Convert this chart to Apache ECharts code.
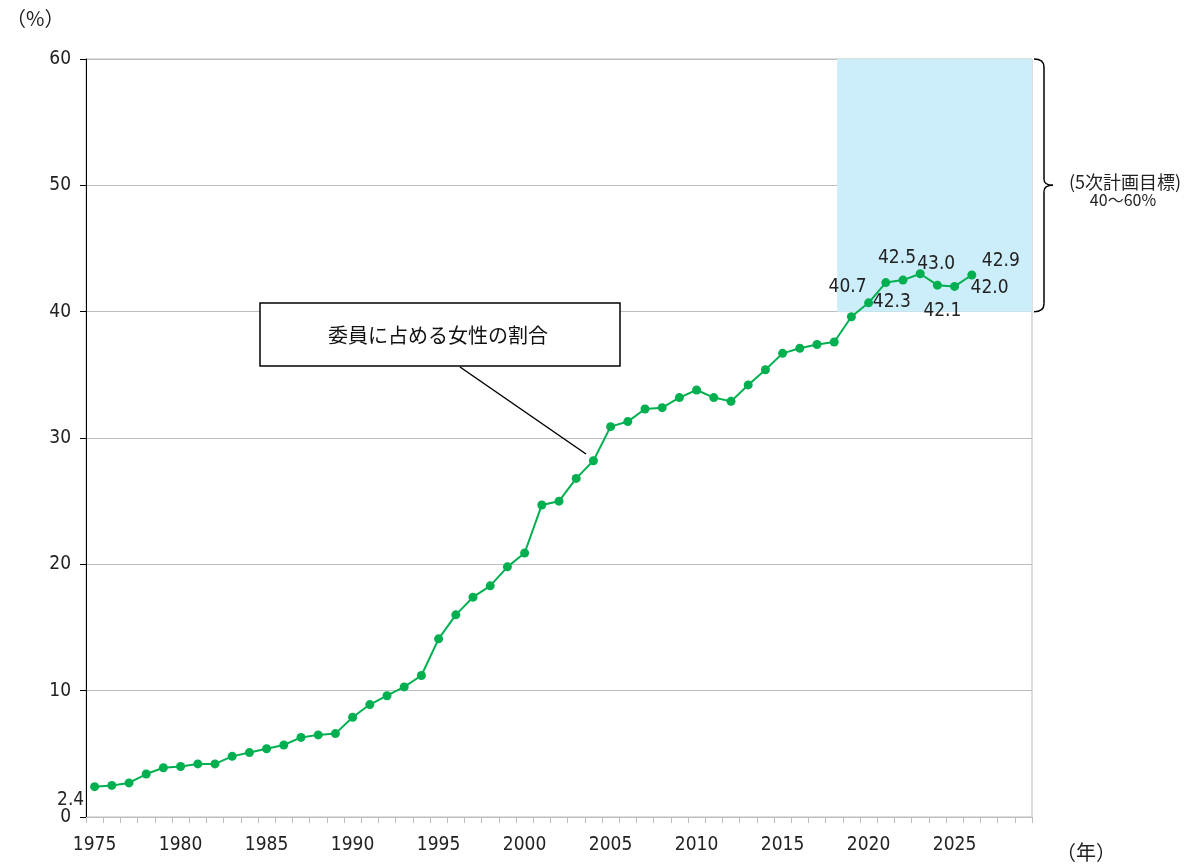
<!DOCTYPE html>
<html><head><meta charset="utf-8">
<script src="https://cdn.jsdelivr.net/npm/echarts@6/dist/echarts.min.js"></script>
<style>html,body{margin:0;padding:0;background:#fff}#c{width:1195px;height:867px}</style>
</head><body><div id="c"></div>
<script>
const years = ['1975','1976','1977','1978','1979','1980','1981','1982','1983','1984',
  '1985','1986','1987','1988','1989','1990','1991','1992','1993','1994',
  '1995','1996','1997','1998','1999','2000','2001','2002','2003','2004',
  '2005','2006','2007','2008','2009','2010','2011','2012','2013','2014',
  '2015','2016','2017','2018','2019','2020','2021','2022','2023','2024',
  '2025','2026','2027','2028','2029'];
const ratio = [2.4,2.5,2.7,3.4,3.9,4.0,4.2,4.2,4.8,5.1,
  5.4,5.7,6.3,6.5,6.6,7.9,8.9,9.6,10.3,11.2,
  14.1,16.0,17.4,18.3,19.8,20.9,24.7,25.0,26.8,28.2,
  30.9,31.3,32.3,32.4,33.2,33.8,33.2,32.9,34.2,35.4,
  36.7,37.1,37.4,37.6,39.6,40.7,42.3,42.5,43.0,42.1,
  42.0,42.9];
// years whose value is printed, with label offsets [dx, dy]
const labelledYears = ['1975','2020','2021','2022','2023','2024','2025','2026'];
const labelOffsets = [[-24,13],[-21,-16],[6,19],[-6,-22],[16,-10],[5,26],[35,2],[29,-14]];
const yTicks = [0,10,20,30,40,50,60];
const targetRange = [40, 60];
const targetStartYear = 2018.17;
const targetEndYear = 2029.5;

const numFont = "'DejaVu Sans Condensed','Liberation Sans Narrow',sans-serif";
const jpFont = "'Noto Sans CJK JP',sans-serif";
const green = '#00B050';

const seriesData = ratio.map((v, i) => {
  const k = labelledYears.indexOf(years[i]);
  if (k < 0) return v;
  return {
    value: v,
    label: {
      show: true, position: 'inside', offset: labelOffsets[k],
      formatter: v.toFixed(1), color: '#222', fontSize: 19, fontFamily: numFont
    }
  };
});

const chart = echarts.init(document.getElementById('c'), null, {renderer: 'canvas'});
const option = {
  animation: false,
  grid: {left: 86, right: 163, top: 59, bottom: 50, show: true, borderColor: '#BDBDBD', borderWidth: 1, backgroundColor: 'transparent'},
  xAxis: [{
    type: 'category', data: years, boundaryGap: true,
    axisLine: {show: true, lineStyle: {color: '#BDBDBD', width: 1}},
    axisTick: {show: true, interval: 0, length: 6, lineStyle: {color: '#BDBDBD'}},
    axisLabel: {interval: 4, color: '#222', fontSize: 19, fontFamily: numFont, margin: 19},
    splitLine: {show: false}
  }, {
    type: 'value', min: 1974.5, max: 2029.5, show: false, position: 'bottom'
  }],
  yAxis: {
    type: 'value', min: yTicks[0], max: yTicks[yTicks.length-1], interval: 10,
    axisLine: {show: true, lineStyle: {color: '#000', width: 1}},
    axisTick: {show: true, length: 6, lineStyle: {color: '#000'}},
    axisLabel: {color: '#222', fontSize: 19, fontFamily: numFont, margin: 15},
    splitLine: {show: true, lineStyle: {color: '#BDBDBD', width: 1}}
  },
  series: [{
    type: 'line', xAxisIndex: 1, data: [], silent: true,
    markArea: {
      silent: true,
      itemStyle: {color: '#CCEEFA'},
      data: [[{xAxis: targetStartYear, yAxis: targetRange[0]}, {xAxis: targetEndYear, yAxis: targetRange[1]}]]
    },
    z: 1
  }, {
    type: 'line', data: seriesData, xAxisIndex: 0,
    symbol: 'circle', symbolSize: 9,
    lineStyle: {color: green, width: 2},
    itemStyle: {color: green},
    z: 3
  }]
};
chart.setOption(option);

const pTop = chart.convertToPixel({yAxisIndex: 0}, targetRange[1]);
const pBot = chart.convertToPixel({yAxisIndex: 0}, targetRange[0]);
const pMid = (pTop + pBot) / 2;
const bx = 1034;
const braceStyle = {stroke: '#000', fill: null, lineWidth: 1.5};
const brace = [
  {type: 'bezierCurve', shape: {x1: bx, y1: pTop, cpx1: bx+10, cpy1: pTop, x2: bx+10, y2: pTop+8}, style: braceStyle},
  {type: 'line', shape: {x1: bx+10, y1: pTop+8, x2: bx+10, y2: pMid-6}, style: braceStyle},
  {type: 'bezierCurve', shape: {x1: bx+10, y1: pMid-6, cpx1: bx+10, cpy1: pMid, x2: bx+19, y2: pMid}, style: braceStyle},
  {type: 'bezierCurve', shape: {x1: bx+19, y1: pMid, cpx1: bx+10, cpy1: pMid, x2: bx+10, y2: pMid+6}, style: braceStyle},
  {type: 'line', shape: {x1: bx+10, y1: pMid+6, x2: bx+10, y2: pBot-8}, style: braceStyle},
  {type: 'bezierCurve', shape: {x1: bx+10, y1: pBot-8, cpx1: bx+10, cpy1: pBot, x2: bx, y2: pBot}, style: braceStyle}
];

chart.setOption({
  graphic: [
    {type: 'text', x: 6, y: 8, style: {text: '（%）', fontSize: 20, fontFamily: jpFont, fill: '#222'}},
    {type: 'text', x: 1056, y: 842, style: {text: '（年）', fontSize: 20, fontFamily: jpFont, fill: '#222'}},
    ...brace,
    {type: 'text', x: 1125, y: pMid - 3, style: {text: '(5次計画目標)', fontSize: 18, fontFamily: jpFont, fill: '#222', align: 'center', verticalAlign: 'middle'}},
    {type: 'text', x: 1123, y: pMid + 15, style: {text: '40～60%', fontSize: 16, fontFamily: jpFont, fill: '#222', align: 'center', verticalAlign: 'middle'}},
    {type: 'line', shape: {x1: 460, y1: 367, x2: 586, y2: 454}, style: {stroke: '#000', lineWidth: 1.5}, z: 10},
    {type: 'rect', shape: {x: 260, y: 303, width: 360, height: 63}, style: {fill: '#fff', stroke: '#000', lineWidth: 1.5}, z: 11},
    {type: 'text', x: 438, y: 335, style: {text: '委員に占める女性の割合', fontSize: 20, fontFamily: jpFont, fill: '#111', align: 'center', verticalAlign: 'middle'}, z: 12}
  ]
});
</script>
</body></html>
